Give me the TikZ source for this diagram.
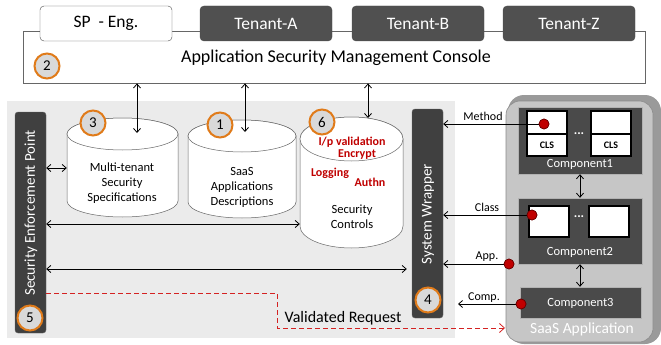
\documentclass[tikz,border=0pt]{standalone}
\usepackage{fontspec}
\setmainfont{Carlito}
\usetikzlibrary{arrows.meta}
\definecolor{bar}{HTML}{404040}
\definecolor{panel}{HTML}{EBEBEB}
\definecolor{ring}{HTML}{E07B1A}
\definecolor{numfill}{HTML}{D9D9D9}
\definecolor{redtxt}{HTML}{C00000}
\definecolor{reddash}{HTML}{D42222}
\definecolor{reddot}{HTML}{C00000}
\definecolor{comp}{HTML}{4A4A4A}
\definecolor{tabgray}{HTML}{505050}
\definecolor{saas}{HTML}{C6C6C6}
\definecolor{saasdark}{HTML}{9A9A9A}
\newcommand\drawcyl[6]{%
  \draw[cylline] (#2,{#3+#6}) -- (#2,{#5-#6}) arc[start angle=180,end angle=0,x radius={(#4-#2)/2},y radius=#6] -- (#4,{#3+#6}) arc[start angle=0,end angle=-180,x radius={(#4-#2)/2},y radius=#6] -- cycle;
  \draw[cylline] ({(#2+#4)/2},{#3+#6}) ellipse[x radius={(#4-#2)/2},y radius=#6];
  \path ({(#2+#4)/2},{(#3+#5)/2}) node[minimum width={(#4-#2)*1pt}, minimum height={(#5-#3)*1pt}] (#1) {};
}
\begin{document}
\begin{tikzpicture}[x=1pt,y=-1pt,
  every node/.style={inner sep=0pt},
  tabbox/.style={draw=black!70, rounded corners=4pt, minimum width=132pt, minimum height=35pt, font=\fontsize{17.5}{20}\selectfont},
  darktab/.style={tabbox, fill=tabgray, text=white},
  num/.style={circle, draw=ring, line width=2pt, fill=numfill, minimum size=25pt, font=\fontsize{15}{18}\selectfont},
  vbar/.style={fill=bar, draw=black!60, rounded corners=3pt, minimum width=31pt},
  bartext/.style={rotate=90, text=white, font=\fontsize{15}{18}\selectfont},
  cylline/.style={draw=black!60, fill=white, line width=0.5pt},
  cyltext/.style={align=center, font=\fontsize{12.5}{15}\selectfont},
  redt/.style={text=redtxt, font=\bfseries\fontsize{12}{14}\selectfont},
  arr/.style={-{Straight Barb[length=4pt,width=7pt]}, line width=0.8pt},
  darr/.style={{Straight Barb[length=4pt,width=7pt]}-{Straight Barb[length=4pt,width=7pt]}, line width=0.8pt},
  dot/.style={circle, fill=reddot, draw=black!60!red, line width=0.6pt, minimum size=10pt},
  compbox/.style={fill=comp, draw=black!30},
  wbox/.style={fill=white, draw=black, line width=1.2pt},
  lbl/.style={font=\fontsize{12}{14}\selectfont},
  ctext/.style={text=white, font=\fontsize{12.5}{15}\selectfont},
  cls/.style={font=\bfseries\fontsize{10}{12}\selectfont},
  dots/.style={text=white, font=\bfseries\fontsize{13}{15}\selectfont}
]
\useasboundingbox (0,0) rectangle (661,345);
% console
\node[draw=black!60, line width=0.8pt, minimum width=622pt, minimum height=52pt] (console) at (334,57) {};
\node[tabbox, fill=white] (sp) at (106,23.5) {SP\ \ - Eng.};
\node[darktab] (ta) at (266,23.5) {Tenant-A};
\node[darktab] (tb) at (418,23.5) {Tenant-B};
\node[darktab] (tz) at (569,23.5) {Tenant-Z};
\node[font=\fontsize{18}{21}\selectfont] (title) at (336,58) {Application Security Management Console};
\node[num] (n2) at (47,66) {2};
% panel
\node[fill=panel, minimum width=448pt, minimum height=237pt] (panel) at (231,219.5) {};
\node[vbar, minimum height=221pt] (sep) at (30.5,222.5) {};
\node[bartext] (septxt) at (31,213) {Security Enforcement Point};
\node[vbar, minimum height=209pt] (sw) at (427.5,213.5) {};
\node[bartext] (swtxt) at (428,214) {System Wrapper};
\node[num] (n5) at (30,318) {5};
\node[num] (n4) at (428,300) {4};
% cylinders
\drawcyl{cyl3}{67}{118}{178}{217}{16}
\drawcyl{cyl1}{188}{120}{296}{218}{16}
\drawcyl{cyl6}{300}{117}{403}{248}{22}
\node[cyltext] (t3) at (122,183) {Multi-tenant\\Security\\Specifications};
\node[cyltext] (t1) at (242,187) {SaaS\\Applications\\Descriptions};
\node[cyltext] (t6) at (352,217) {Security\\Controls};
\node[redt] (r1) at (352,142) {I/p validation};
\node[redt] (r2) at (357,155) {Encrypt};
\node[redt] (r3) at (330,173) {Logging};
\node[redt] (r4) at (370,182) {Authn};
\node[num] (n3) at (93,123) {3};
\node[num] (n1) at (220,125) {1};
\node[num] (n6) at (322,122) {6};
% console arrows
\coordinate (c3top) at (137,133);
\coordinate (c1top) at (245,132);
\coordinate (c6top) at (368,118);
\draw[darr] (console.south -| c3top) -- (c3top);
\draw[darr] (console.south -| c1top) -- (c1top);
\draw[darr] (console.south -| c6top) -- (c6top);
% horizontal arrows
\draw[darr] (sep.east |- 0,168) -- (cyl3.west |- 0,168);
\draw[darr] (sep.east |- 0,224) -- (cyl6.west |- 0,224);
\draw[darr] (sep.east |- 0,269) -- ([xshift=-5pt]sw.west |- 0,269);
% SaaS container
\fill[saasdark, rounded corners=16pt] (508,95) rectangle (661,344);
\draw[saas!70!black, fill=saas, rounded corners=14pt, line width=0.6pt] (506,101) rectangle (653,342);
\node[text=white, font=\fontsize{15.5}{18}\selectfont] (saastxt) at (582,329) {SaaS Application};
% components
\node[compbox, minimum width=124pt, minimum height=67pt] (comp1) at (580,140.5) {};
\node[compbox, minimum width=124pt, minimum height=66pt] (comp2) at (580,231) {};
\node[compbox, minimum width=121pt, minimum height=31pt] (comp3) at (580.5,302.5) {};
\node[ctext] (c1t) at (580,164) {Component1};
\node[ctext] (c2t) at (580,252) {Component2};
\node[ctext] (c3t) at (580.5,303) {Component3};
\node[wbox, minimum width=40pt, minimum height=23pt] (b1a) at (547,122.5) {};
\node[wbox, minimum width=40pt, minimum height=22pt] (b1al) at (547,145) {};
\node[cls] at (b1al) {CLS};
\node[wbox, minimum width=40pt, minimum height=23pt] (b1b) at (611,122.5) {};
\node[wbox, minimum width=40pt, minimum height=22pt] (b1bl) at (611,145) {};
\node[cls] at (b1bl) {CLS};
\node[dots] (d1) at (579,134) {...};
\node[wbox, minimum width=40pt, minimum height=31pt] (b2a) at (549,221.5) {};
\node[wbox, minimum width=40pt, minimum height=31pt] (b2b) at (609,221.5) {};
\node[dots] (d2) at (579,217) {...};
\draw[darr] (comp1.south -| 580,0) -- (comp2.north -| 580,0);
\draw[darr] (comp2.south -| 580,0) -- (comp3.north -| 580,0);
% dots and arrows to wrapper
\node[dot] (dm) at (544,124) {};
\node[dot] (dc) at (532,215) {};
\node[dot] (da) at (509,264) {};
\node[dot] (dp) at (521,304) {};
\draw[arr] (dm.center) -- (sw.east |- dm);
\draw[arr] (dc.center) -- (sw.east |- dc);
\draw[arr] (da.center) -- (sw.east |- da);
\coordinate (compend) at (458,304);
\draw[arr] (dp.center) -- (compend);
\node[dot] at (dm) {};
\node[dot] at (dc) {};
\node[dot] at (da) {};
\node[dot] at (dp) {};
\node[lbl] (lm) at (483,116) {Method};
\node[lbl] (lc) at (487,207) {Class};
\node[lbl] (la) at (487,257) {App.};
\node[lbl] (lp) at (484,298) {Comp.};
% validated request
\coordinate (vr1) at (46,293);
\coordinate (vr2) at (277,293);
\coordinate (vr3) at (277,328);
\coordinate (vr4) at (505,328);
\draw[reddash, dash pattern=on 5pt off 3pt, line width=0.8pt, -{Straight Barb[length=5pt,width=9pt]}] (vr1) -- (vr2) -- (vr3) -- (vr4);
\node[font=\fontsize{16}{19}\selectfont] (vrt) at (343,318) {Validated Request};
\end{tikzpicture}
\end{document}
